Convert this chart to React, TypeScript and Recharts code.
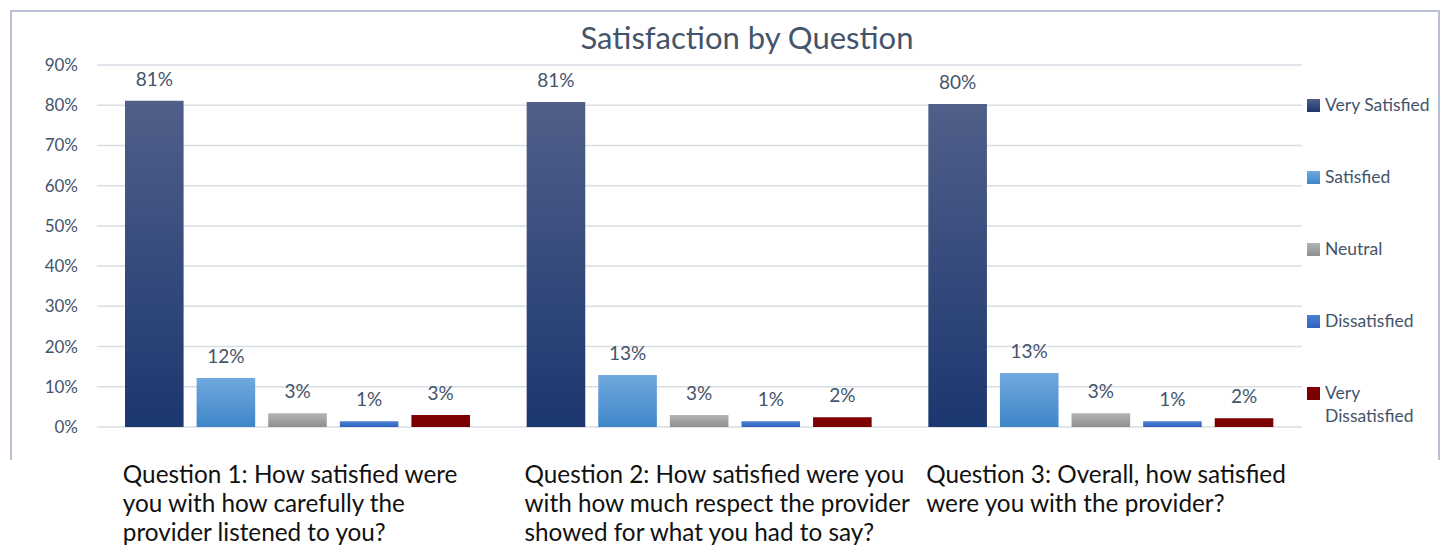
import React from 'react';
import { BarChart, Bar, XAxis, YAxis, CartesianGrid, Legend, LabelList } from 'recharts';

const categoryLines: string[][] = [
  ['Question 1: How satisfied were', 'you with how carefully the', 'provider listened to you?'],
  ['Question 2: How satisfied were you', 'with how much respect the provider', 'showed for what you had to say?'],
  ['Question 3: Overall, how satisfied', 'were you with the provider?'],
];
const categories = categoryLines.map((l) => l.join(' '));

const seriesNames = ['Very Satisfied', 'Satisfied', 'Neutral', 'Dissatisfied', 'Very Dissatisfied'];
const verySatisfied = [81.1, 80.8, 80.3];
const satisfied = [12.2, 12.9, 13.4];
const neutral = [3.4, 3.0, 3.4];
const dissatisfied = [1.4, 1.4, 1.4];
const veryDissatisfied = [3.0, 2.4, 2.2];

const yTicks = [0, 10, 20, 30, 40, 50, 60, 70, 80, 90];

const seriesKeys = ['vs', 's', 'n', 'd', 'vd'];
const gradients: [string, string][] = [
  ['#515f89', '#1b376f'],
  ['#71a9df', '#3e86c8'],
  ['#b4b4b4', '#8f8f8f'],
  ['#4d80d3', '#2f62bd'],
  ['#800000', '#7a0000'],
];

const data = categories.map((c, i) => ({
  name: c,
  vs: verySatisfied[i],
  s: satisfied[i],
  n: neutral[i],
  d: dissatisfied[i],
  vd: veryDissatisfied[i],
}));

const FONT = 'Lato, "Open Sans", sans-serif';
const TEXT = '#44546a';

const CategoryTick = (props: any) => {
  const { x, y, payload } = props;
  const lines = categoryLines[payload.index] || [];
  return (
    <g>
      {lines.map((l, i) => (
        <text key={i} x={x - 175} y={y + 48 + i * 29} textAnchor="start" fill="#111" fontSize={24.3} fontFamily={FONT}>
          {l}
        </text>
      ))}
    </g>
  );
};

const renderLegend = () => (
  <div style={{ fontFamily: FONT, fontSize: 17.5, color: TEXT }}>
    {seriesNames.map((n, i) => (
      <div key={n} style={{ height: 72, display: 'flex', alignItems: 'flex-start' }}>
        <span style={{ width: 13, height: 13, marginTop: 4, marginRight: 5, flex: '0 0 13px', background: `linear-gradient(${gradients[i][0]}, ${gradients[i][1]})` }} />
        <span style={{ lineHeight: '23px', marginTop: -2, maxWidth: 115 }}>{n}</span>
      </div>
    ))}
  </div>
);

export default function App() {
  return (
    <div style={{ position: 'fixed', left: 8, top: 8, width: 1432, height: 538, overflow: 'hidden', background: '#fff' }}>
      <div style={{ position: 'absolute', left: 2, top: 2, width: 1430, height: 450, borderTop: '2px solid #b7c1d3', borderLeft: '2px solid #b7c1d3', borderRight: '2px solid #b7c1d3', boxSizing: 'border-box' }} />
      <div style={{ position: 'absolute', left: 39, width: 1400, top: 11, textAlign: 'center', fontFamily: FONT, fontSize: 31, color: TEXT, lineHeight: '36px' }}>
        Satisfaction by Question
      </div>
      <BarChart width={1432} height={538} data={data} margin={{ top: 57, right: 138, bottom: 0, left: 0 }} barGap={13} barSize={58.6}>
        <defs>
          {gradients.map((g, i) => (
            <linearGradient key={i} id={`grad${i}`} x1="0" y1="0" x2="0" y2="1">
              <stop offset="0%" stopColor={g[0]} />
              <stop offset="100%" stopColor={g[1]} />
            </linearGradient>
          ))}
        </defs>
        <CartesianGrid vertical={false} stroke="#d9dde6" strokeWidth={1.5} />
        <XAxis dataKey="name" axisLine={false} tickLine={false} height={119} tick={<CategoryTick />} interval={0} />
        <YAxis
          domain={[0, 90]}
          ticks={yTicks}
          width={89}
          axisLine={false}
          tickLine={false}
          tickSize={0}
          tickMargin={19}
          tickFormatter={(v: number) => `${v}%`}
          tick={{ fill: TEXT, fontSize: 17, fontFamily: FONT }}
        />
        <Legend layout="vertical" align="center" verticalAlign="middle" content={renderLegend} wrapperStyle={{ left: 1299, top: 87, width: 133 }} />
        {seriesKeys.map((k, i) => (
          <Bar key={k} dataKey={k} name={seriesNames[i]} fill={`url(#grad${i})`} isAnimationActive={false}>
            <LabelList dataKey={k} position="top" offset={15} formatter={(v: any) => `${Math.round(v)}%`} fill={TEXT} fontSize={19} fontFamily={FONT} />
          </Bar>
        ))}
      </BarChart>
    </div>
  );
}
